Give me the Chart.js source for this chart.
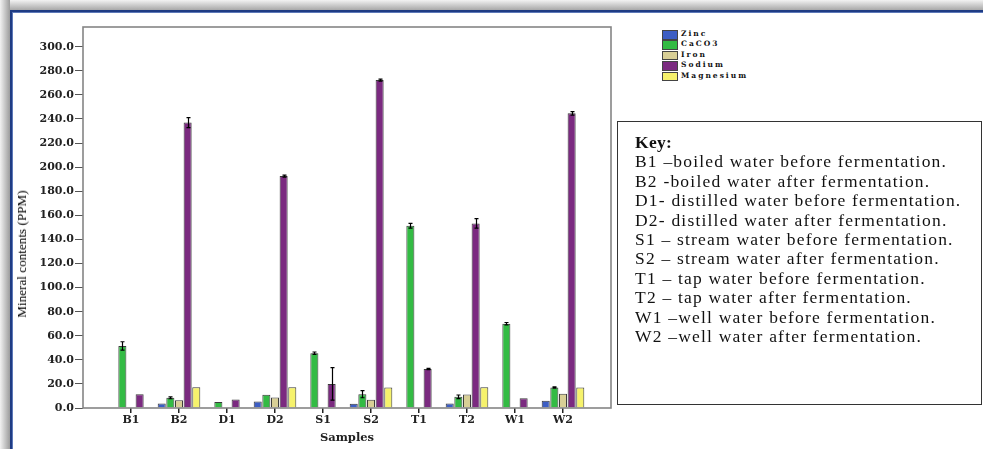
<!DOCTYPE html>
<html>
<head>
<meta charset="utf-8">
<script src="https://cdn.jsdelivr.net/npm/chart.js@4.4.1/dist/chart.umd.min.js"></script>
<style>
  html, body { margin:0; padding:0; background:#fff; }
  body { width:983px; height:449px; position:relative; overflow:hidden; }
  #shadowTop { position:absolute; left:0; top:0; width:983px; height:10px; background:linear-gradient(to bottom,#f2f2f2,#a8a8a8); }
  #shadowLeft { position:absolute; left:0; top:0; width:10px; height:449px; background:linear-gradient(to right,#f2f2f2,#9c9c9c); }
  #frame { position:absolute; left:10px; top:10px; width:1000px; height:500px; border-left:2px solid #1f3c84; border-top:2px solid #1f3c84; background:#fff; box-shadow: inset 1px 1px 0 #5c78b8; }
  #chart { position:absolute; left:0; top:0; }
  #ytitle { position:absolute; left:22px; top:254px; transform:translate(-50%,-50%) rotate(-90deg); font-family:"Liberation Serif"; font-weight:normal; font-size:13.2px; color:#000; white-space:nowrap; }
  #legend { position:absolute; left:662px; top:29px; font-family:"DejaVu Serif"; font-weight:bold; font-size:7.5px; color:#111; letter-spacing:2px; }
  #legend .row { position:relative; height:10.4px; line-height:10.4px; white-space:nowrap; padding-left:19px; }
  #legend .sw { position:absolute; left:0; top:1px; width:14px; height:7.5px; border:1px solid #444; }
  #key { position:absolute; left:617px; top:121px; width:365px; height:284px; border:1px solid #333; box-sizing:border-box; font-family:"Liberation Serif"; font-size:17.5px; letter-spacing:1.2px; color:#111; padding:11px 0 0 17px; line-height:19.4px; white-space:nowrap; overflow:hidden; }
  #key b { font-weight:bold; letter-spacing:0.3px; }
</style>
</head>
<body>
<div id="shadowTop"></div>
<div id="shadowLeft"></div>
<div id="frame"></div>
<canvas id="chart" width="620" height="449"></canvas>
<div id="ytitle">Mineral contents (PPM)</div>
<div id="legend"></div>
<div id="key"></div>
<script>
// ---- data ----
const categories = ['B1','B2','D1','D2','S1','S2','T1','T2','W1','W2'];
const seriesNames = ['Zinc','CaCO3','Iron','Sodium','Magnesium'];
const zinc      = [0, 3.8, 0, 5.5, 0, 3.5, 0, 3.7, 0, 6];
const caco3     = [51.5, 8.5, 5, 11, 45.5, 11.5, 151.4, 9.3, 70, 17];
const iron      = [0, 6.5, 0, 8.7, 0, 6.8, 0, 11.2, 0, 11.8];
const sodium    = [11.5, 237, 7, 192.6, 20, 272.3, 32.4, 153.3, 8, 244.7];
const magnesium = [0, 17.3, 0, 17.3, 0, 17, 0, 17.3, 0, 17];
const zincErr      = [0, 0, 0, 0, 0, 0, 0, 0, 0, 0];
const caco3Err     = [3.5, 0.8, 0, 0, 1, 3, 2, 1.5, 1, 0.5];
const ironErr      = [0, 0, 0, 0, 0, 0, 0, 0, 0, 0];
const sodiumErr    = [0, 4.2, 0, 0.8, 13.5, 0.8, 0.5, 4, 0, 1.5];
const magnesiumErr = [0, 0, 0, 0, 0, 0, 0, 0, 0, 0];
const yTickValues = [0,20,40,60,80,100,120,140,160,180,200,220,240,260,280,300];
const keyTitle = 'Key:';
const keyLines = [
  'B1 \u2013boiled water before fermentation.',
  'B2 -boiled water after fermentation.',
  'D1- distilled water before fermentation.',
  'D2- distilled water after fermentation.',
  'S1 \u2013 stream water before fermentation.',
  'S2 \u2013 stream water after fermentation.',
  'T1 \u2013 tap water before fermentation.',
  'T2 \u2013 tap water after fermentation.',
  'W1 \u2013well water before fermentation.',
  'W2 \u2013well water after fermentation.'
];

const colors = ['#3d5ec4', '#33bb44', '#d8cf96', '#7b2a80', '#f6f26c'];
const values = [zinc, caco3, iron, sodium, magnesium];
const errors = [zincErr, caco3Err, ironErr, sodiumErr, magnesiumErr];

// padded category axis: one empty slot each side
const labels = [''].concat(categories, ['']);
const pad = a => [null].concat(a, [null]);

const errorBars = {
  id: 'errorBars',
  afterDatasetsDraw(chart) {
    const ctx = chart.ctx, y = chart.scales.y;
    ctx.save();
    ctx.strokeStyle = '#000';
    ctx.lineWidth = 1.2;
    chart.data.datasets.forEach((ds, di) => {
      const meta = chart.getDatasetMeta(di);
      const err = errors[di], val = values[di];
      val.forEach((v, i) => {
        const e = err[i];
        if (!e) return;
        const el = meta.data[i + 1];
        const x = Math.round(el.x) + 0.5;
        const y1 = y.getPixelForValue(v + e), y2 = y.getPixelForValue(v - e);
        ctx.beginPath();
        ctx.moveTo(x, y1); ctx.lineTo(x, y2);
        ctx.moveTo(x - 2, y1); ctx.lineTo(x + 2, y1);
        ctx.moveTo(x - 2, y2); ctx.lineTo(x + 2, y2);
        ctx.stroke();
      });
    });
    ctx.restore();
  }
};
const plotBox = {
  id: 'plotBox',
  afterDraw(chart) {
    const {left, top, right, bottom} = chart.chartArea;
    const ctx = chart.ctx;
    ctx.save();
    ctx.strokeStyle = '#858585';
    ctx.lineWidth = 1.6;
    ctx.strokeRect(left, top, right - left, bottom - top);
    ctx.restore();
  }
};

new Chart(document.getElementById('chart'), {
  type: 'bar',
  data: {
    labels: labels,
    datasets: seriesNames.map((name, i) => ({
      label: name,
      data: pad(values[i]),
      backgroundColor: colors[i],
      borderColor: '#3a3a3a',
      borderWidth: c => (c.raw ? 1 : 0),
      categoryPercentage: 0.9,
      barPercentage: 0.93
    }))
  },
  options: {
    responsive: false,
    animation: false,
    layout: { padding: { top: 27, right: 9, left: 0, bottom: 0 } },
    plugins: { legend: { display: false }, tooltip: { enabled: false } },
    scales: {
      x: {
        type: 'category',
        offset: false,
        grid: { display: true, offset: false, drawOnChartArea: false, tickLength: 5, lineWidth: 1.5,
                color: c => (c.index === 0 || c.index === labels.length - 1) ? 'rgba(0,0,0,0)' : '#222' },
        border: { display: false },
        ticks: { autoSkip: false, maxRotation: 0, padding: 1, color: '#222',
                 font: { family: 'DejaVu Serif', weight: 'bold', size: 11 } },
        title: { display: true, text: 'Samples', color: '#222',
                 font: { family: 'DejaVu Serif', weight: 'bold', size: 11.5 },
                 padding: { top: 0, bottom: 4 } },
        afterFit: s => { s.height = 41; }
      },
      y: {
        min: 0,
        max: 316.4,
        grid: { display: true, drawOnChartArea: false, tickLength: 8, color: '#555' },
        border: { display: false },
        afterBuildTicks: s => { s.ticks = yTickValues.map(v => ({ value: v })); },
        ticks: { padding: 1, color: '#222', callback: v => Number(v).toFixed(1),
                 font: { family: 'DejaVu Serif', weight: 'bold', size: 11 } },
        afterFit: s => { s.width = 83; }
      }
    }
  },
  plugins: [errorBars, plotBox]
});

// legend
const lg = document.getElementById('legend');
seriesNames.forEach((n, i) => {
  const r = document.createElement('div');
  r.className = 'row';
  const sw = document.createElement('span');
  sw.className = 'sw';
  sw.style.background = colors[i];
  r.appendChild(sw);
  r.appendChild(document.createTextNode(n));
  lg.appendChild(r);
});
// key
const key = document.getElementById('key');
const kt = document.createElement('b');
kt.textContent = keyTitle;
key.appendChild(kt);
keyLines.forEach(t => {
  const d = document.createElement('div');
  d.textContent = t;
  key.appendChild(d);
});
</script>
</body>
</html>
